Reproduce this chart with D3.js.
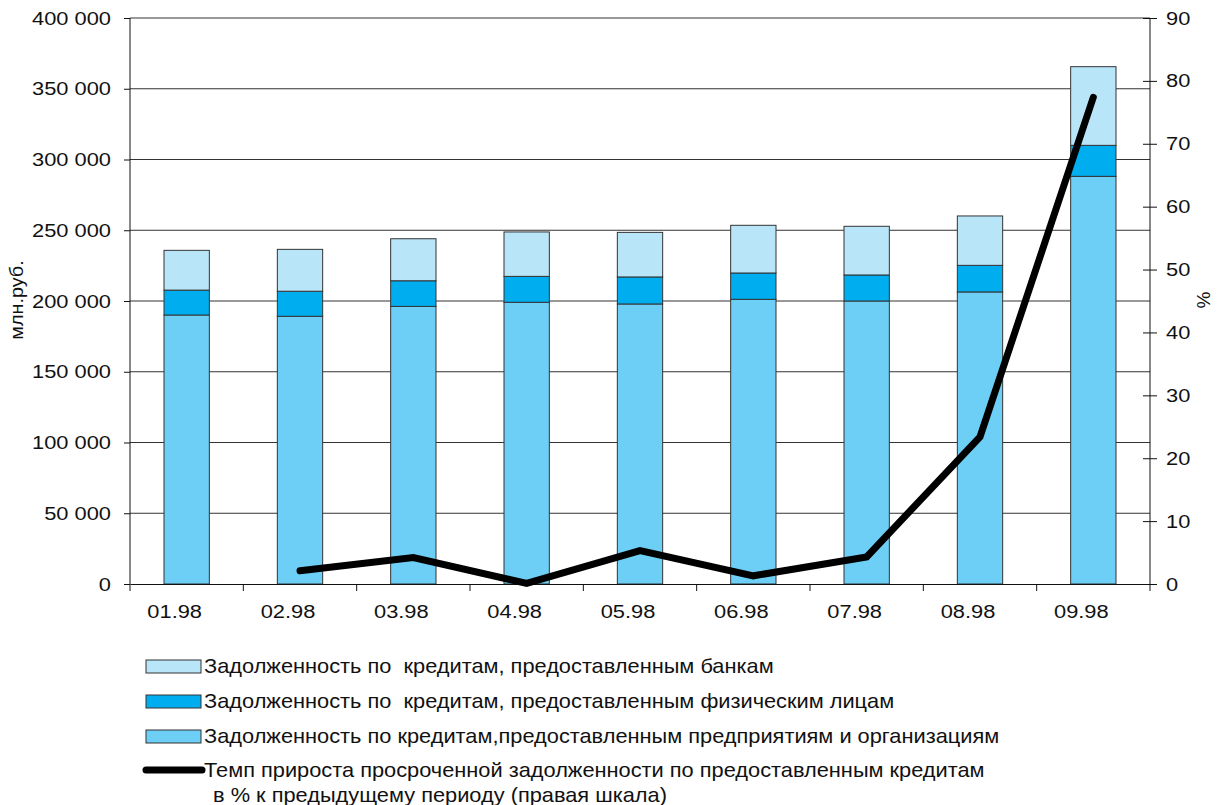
<!DOCTYPE html>
<html><head><meta charset="utf-8">
<script src="https://cdn.jsdelivr.net/npm/d3@7"></script>
<style>body{margin:0;background:#fff}svg{display:block}text{font-family:"Liberation Sans",Arial,sans-serif;fill:#111;white-space:pre}</style>
</head><body><svg id="c" width="1223" height="805"></svg>
<script>
const categories = ["01.98","02.98","03.98","04.98","05.98","06.98","07.98","08.98","09.98"];
const enterprises = [190100,189200,196200,199100,197900,201200,200000,206400,288100];
const individuals = [17600,17700,18100,18300,19100,18600,18400,18800,21900];
const banks = [28100,29600,29700,31400,31500,33700,34400,34900,55600];
const growthRate = [null,2.1,4.2,0.1,5.3,1.3,4.3,23.4,77.4];
const leftTicks = [0,50000,100000,150000,200000,250000,300000,350000,400000];
const rightTicks = [0,10,20,30,40,50,60,70,80,90];
const seriesNames = ["Задолженность по  кредитам, предоставленным банкам",
 "Задолженность по  кредитам, предоставленным физическим лицам",
 "Задолженность по кредитам,предоставленным предприятиям и организациям"];
const lineName1 = "Темп прироста просроченной задолженности по предоставленным кредитам";
const lineName2 = "в % к предыдущему периоду (правая шкала)";
const colors = {ent:"#6dcff6", ind:"#00aeef", bank:"#b9e5f9"};

const svg = d3.select("#c");
const L=130, R=1150, T=18, B=584;
const x = d3.scaleBand().domain(categories).range([L,R]).paddingInner(0.6).paddingOuter(0.3);
const xb = d3.scaleBand().domain(categories).range([L,R]);
const y = d3.scaleLinear().domain([0,400000]).range([B,T]);
const y2 = d3.scaleLinear().domain([0,90]).range([B,T]);
const fmt = v => d3.format(",")(v).replace(/,/g," ");

function stretch(sel, s){
 sel.each(function(){
  const t=d3.select(this);
  const tx=+t.attr("x")||0, ty=+t.attr("y")||0;
  t.attr("x",0).attr("y",0).attr("transform",`translate(${tx},${ty}) scale(${s},1)`);
 });
}

// gridlines
svg.append("g").selectAll("line").data(leftTicks.filter(d=>d>0)).join("line")
 .attr("x1",L).attr("x2",R).attr("y1",d=>y(d)).attr("y2",d=>y(d))
 .attr("stroke","#333").attr("stroke-width",1);

// stacked bars
const data = categories.map((c,i)=>({c, ent:enterprises[i], ind:individuals[i], bank:banks[i]}));
const stack = d3.stack().keys(["ent","ind","bank"])(data);
svg.append("g").selectAll("g").data(stack).join("g")
 .attr("fill",d=>colors[d.key])
 .selectAll("rect").data(d=>d).join("rect")
 .attr("x",d=>x(d.data.c)).attr("width",x.bandwidth())
 .attr("y",d=>y(d[1])).attr("height",d=>y(d[0])-y(d[1]))
 .attr("stroke","#333").attr("stroke-width",1);

// axes
const ax = svg.append("g").attr("transform",`translate(${L},0)`)
 .call(d3.axisLeft(y).tickValues(leftTicks).tickFormat(fmt).tickSizeInner(6).tickSizeOuter(0).tickPadding(13));
const ax2 = svg.append("g").attr("transform",`translate(${R},0)`)
 .call(d3.axisRight(y2).tickValues(rightTicks).tickSizeInner(7).tickSizeOuter(0).tickPadding(9));
ax2.selectAll(".tick line").attr("x1",-7);
const xa = svg.append("g").attr("transform",`translate(0,${B})`)
 .call(d3.axisBottom(xb).tickSize(0).tickPadding(21));
xa.selectAll(".tick text").attr("x",-12);
svg.append("g").selectAll("line").data(categories).join("line")
 .attr("x1",d=>xb(d)).attr("x2",d=>xb(d)).attr("y1",B).attr("y2",B+7)
 .attr("stroke","#111");
svg.append("line").attr("x1",R).attr("x2",R).attr("y1",B).attr("y2",B+7).attr("stroke","#111");
[ax,ax2,xa].forEach(g=>{g.selectAll("text").style("font-size","19px").attr("fill","#111");
 g.selectAll("path,line").attr("stroke","#111");
 stretch(g.selectAll(".tick text"),1.15);});
ax.select(".domain").attr("d",`M0,${T}V${B}`);
ax2.select(".domain").attr("d",`M0,${T}V${B}`);

// axis titles
svg.append("text").attr("transform","translate(23,300) rotate(-90) scale(1.1,1)").attr("text-anchor","middle")
 .style("font-size","18px").text("млн.руб.");
svg.append("text").attr("transform","translate(1210,300) rotate(-90)").attr("text-anchor","middle")
 .style("font-size","19px").text("%");

// line
const lineData = categories.map((c,i)=>({c,v:growthRate[i]})).filter(d=>d.v!==null);
svg.append("path").datum(lineData)
 .attr("d",d3.line().x(d=>xb(d.c)+xb.bandwidth()/2).y(d=>y2(d.v)))
 .attr("fill","none").attr("stroke","#000").attr("stroke-width",7)
 .attr("stroke-linejoin","miter").attr("stroke-linecap","round");

// legend
const lg = svg.append("g");
const rows = [{n:seriesNames[0],c:colors.bank},{n:seriesNames[1],c:colors.ind},{n:seriesNames[2],c:colors.ent}];
const texts = [];
rows.forEach((r,i)=>{
 const cy = 666 + i*35;
 lg.append("rect").attr("x",146).attr("y",cy-6).attr("width",55).attr("height",13)
  .attr("fill",r.c).attr("stroke","#333").attr("stroke-width",1);
 texts.push(lg.append("text").attr("x",204).attr("y",cy+7).style("font-size","20px").text(r.n).node());
});
lg.append("line").attr("x1",146).attr("x2",202).attr("y1",770).attr("y2",770)
 .attr("stroke","#000").attr("stroke-width",7).attr("stroke-linecap","round");
texts.push(lg.append("text").attr("x",204).attr("y",777).style("font-size","20px").text(lineName1).node());
texts.push(lg.append("text").attr("x",213).attr("y",802).style("font-size","20px").text(lineName2).node());
stretch(d3.selectAll(texts),1.09);
</script></body></html>
